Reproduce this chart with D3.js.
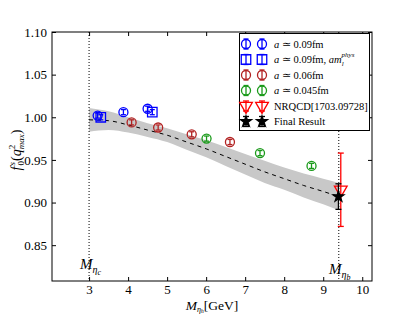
<!DOCTYPE html>
<html>
<head>
<meta charset="utf-8">
<script src="https://cdn.jsdelivr.net/npm/d3@7"></script>
<style>
body { margin: 0; background: #fff; }
text { font-family: "Liberation Serif", serif; }
</style>
</head>
<body>
<div id="chart"></div>
<script>
// data
var blueX = [3.22, 3.88, 4.50];
var blueY = [1.002, 1.006, 1.010];
var blueErr = [0.003, 0.003, 0.003];

var physX = [3.30, 4.62];
var physY = [1.000, 1.006];
var physErr = [0.003, 0.003];

var fineX = [4.09, 4.77, 5.63, 6.61];
var fineY = [0.994, 0.988, 0.980, 0.971];
var fineErr = [0.003, 0.003, 0.003, 0.003];

var finestX = [6.01, 7.38, 8.70];
var finestY = [0.975, 0.958, 0.943];
var finestErr = [0.003, 0.003, 0.003];

var nrqcdX = [9.45];
var nrqcdY = [0.915];
var nrqcdErr = [0.043];

var finalX = [9.39];
var finalY = [0.907];
var finalErr = [0.015];

var bandX = [3.0, 3.5, 4.0, 4.5, 5.0, 5.5, 6.0, 6.5, 7.0, 7.5, 8.0, 8.5, 9.0, 9.4];
var bandMid = [0.997, 0.996, 0.991, 0.985, 0.979, 0.971, 0.963, 0.954, 0.945, 0.936, 0.928, 0.920, 0.913, 0.907];
var bandHalf = [0.014, 0.011, 0.009, 0.008, 0.008, 0.009, 0.010, 0.011, 0.012, 0.013, 0.013, 0.014, 0.015, 0.016];

var xTicks = [3, 4, 5, 6, 7, 8, 9, 10];
var yTicks = [0.85, 0.90, 0.95, 1.00, 1.05, 1.10];
var massLines = [3.0, 9.399];

var svgWidth = 415;
var svgHeight = 316;
var margin = {top: 32, right: 43, bottom: 35, left: 52};
var width = svgWidth - margin.left - margin.right;
var height = svgHeight - margin.top - margin.bottom;

var svg = d3.select("#chart").append("svg")
    .attr("width", svgWidth)
    .attr("height", svgHeight);

var g = svg.append("g")
    .attr("transform", `translate(${margin.left},${margin.top})`);

var x = d3.scaleLinear().domain([2.05, 10.25]).range([0, width]);
var y = d3.scaleLinear().domain([0.808, 1.10]).range([height, 0]);

// band
var band = bandX.map((v, i) => ({x: v, m: bandMid[i], h: bandHalf[i]}));
g.append("path")
    .datum(band)
    .attr("fill", "#c8c8c8")
    .attr("d", d3.area().x(d => x(d.x)).y0(d => y(d.m - d.h)).y1(d => y(d.m + d.h)).curve(d3.curveMonotoneX));
g.append("path")
    .datum(band)
    .attr("fill", "none")
    .attr("stroke", "#000")
    .attr("stroke-width", 1)
    .attr("stroke-dasharray", "4,4")
    .attr("d", d3.line().x(d => x(d.x)).y(d => y(d.m)).curve(d3.curveMonotoneX));

// M_eta lines
g.selectAll(".mline").data(massLines).enter().append("line")
    .attr("x1", d => x(d)).attr("x2", d => x(d))
    .attr("y1", 0).attr("y2", height)
    .attr("stroke", "#000")
    .attr("stroke-width", 1)
    .attr("stroke-dasharray", "1,2");

// markers
function drawSeries(xs, ys, es, color, shape, size, rot) {
    var grp = g.append("g");
    xs.forEach(function(xv, i) {
        var cx = x(xv), cy = y(ys[i]);
        var y0 = y(ys[i] - es[i]), y1 = y(ys[i] + es[i]);
        drawMarker(grp, cx, cy, y0, y1, color, shape, size, rot);
    });
}

function drawMarker(grp, cx, cy, y0, y1, color, shape, size, rot) {
    var cap = shape === "circle" || shape === "square" ? 2.5 : 3;
    grp.append("line").attr("x1", cx).attr("x2", cx).attr("y1", y0).attr("y2", y1)
        .attr("stroke", color).attr("stroke-width", 1.3);
    [y0, y1].forEach(function(yy) {
        grp.append("line").attr("x1", cx - cap).attr("x2", cx + cap).attr("y1", yy).attr("y2", yy)
            .attr("stroke", color).attr("stroke-width", 1.3);
    });
    var sym = {circle: d3.symbolCircle, square: d3.symbolSquare, tri: d3.symbolTriangle, star: d3.symbolStar}[shape];
    grp.append("path")
        .attr("d", d3.symbol().type(sym).size(size)())
        .attr("transform", `translate(${cx},${cy}) rotate(${rot || 0})`)
        .attr("fill", shape === "star" ? "#000" : "none")
        .attr("stroke", color)
        .attr("stroke-width", 1.3);
}

drawSeries(blueX, blueY, blueErr, "#0000ff", "circle", 64);
drawSeries(physX, physY, physErr, "#0000ff", "square", 90);
drawSeries(fineX, fineY, fineErr, "#b22222", "circle", 64);
drawSeries(finestX, finestY, finestErr, "#1a9a1a", "circle", 64);
drawSeries(nrqcdX, nrqcdY, nrqcdErr, "#ff0000", "tri", 70, 180);
drawSeries(finalX, finalY, finalErr, "#000", "star", 36);

// axes with inward ticks on all sides
var xAxis = g.append("g").attr("transform", `translate(0,${height})`)
    .call(d3.axisBottom(x).tickValues(xTicks).tickSizeInner(-4).tickSizeOuter(0).tickPadding(4).tickFormat(d3.format("d")));
var xTop = g.append("g")
    .call(d3.axisTop(x).tickValues(xTicks).tickSizeInner(-4).tickSizeOuter(0).tickFormat(""));
var yAxis = g.append("g")
    .call(d3.axisLeft(y).tickValues(yTicks).tickSizeInner(-4).tickSizeOuter(0).tickPadding(5).tickFormat(d3.format(".2f")));
var yRight = g.append("g").attr("transform", `translate(${width},0)`)
    .call(d3.axisRight(y).tickValues(yTicks).tickSizeInner(-4).tickSizeOuter(0).tickFormat(""));
[xAxis, xTop, yAxis, yRight].forEach(function(a) {
    a.select(".domain").remove();
    a.selectAll("line").attr("stroke", "#000");
    a.selectAll("text").style("font-family", "Liberation Serif, serif").style("font-size", "13px").attr("fill", "#000");
});

g.append("rect").attr("width", width).attr("height", height)
    .attr("fill", "none").attr("stroke", "#000").attr("stroke-width", 1);

// axis labels
var yl = svg.append("text")
    .attr("transform", "translate(21,150) rotate(-90)")
    .attr("text-anchor", "middle")
    .style("font-size", "14px");
yl.append("tspan").style("font-style", "italic").text("f");
yl.append("tspan").attr("dx", 1).attr("dy", 3).style("font-size", "9px").text("0");
yl.append("tspan").attr("dx", -4.5).attr("dy", -9).style("font-size", "9px").style("font-style", "italic").text("s");
yl.append("tspan").attr("dx", 1).attr("dy", 6).text("(");
yl.append("tspan").style("font-style", "italic").text("q");
yl.append("tspan").attr("dy", -6).style("font-size", "9px").text("2");
yl.append("tspan").attr("dx", -4.5).attr("dy", 9).style("font-size", "9px").style("font-style", "italic").text("max");
yl.append("tspan").attr("dy", -3).text(")");

var xl = svg.append("text")
    .attr("x", 212).attr("y", 310)
    .attr("text-anchor", "middle")
    .style("font-size", "13.5px");
xl.append("tspan").style("font-style", "italic").text("M");
xl.append("tspan").attr("dy", 2).style("font-size", "8px").style("font-style", "italic").text("η");
xl.append("tspan").attr("dy", 1).style("font-size", "6px").style("font-style", "italic").text("h");
xl.append("tspan").attr("dy", -3).text("[GeV]");

function massLabel(px, py, sub) {
    var t = svg.append("text").attr("x", px).attr("y", py).style("font-size", "15px");
    t.append("tspan").style("font-style", "italic").text("M");
    t.append("tspan").attr("dy", 4).style("font-size", "10px").style("font-style", "italic").text("η");
    t.append("tspan").attr("dy", 2).style("font-size", "8px").style("font-style", "italic").text(sub);
}
massLabel(80, 269, "c");
massLabel(329, 274, "b");

// legend
var legend = svg.append("g");
legend.append("rect").attr("x", 239.5).attr("y", 33.5).attr("width", 130).attr("height", 97)
    .attr("fill", "#fff").attr("stroke", "#000").attr("stroke-width", 1);
var legItems = [
    {color: "#0000ff", shape: "circle", size: 64},
    {color: "#0000ff", shape: "square", size: 90},
    {color: "#b22222", shape: "circle", size: 64},
    {color: "#1a9a1a", shape: "circle", size: 64},
    {color: "#ff0000", shape: "tri", size: 70, rot: 180},
    {color: "#000", shape: "star", size: 36}
];
legItems.forEach(function(it, i) {
    var ly = 44 + i * 15.5;
    [246, 262].forEach(function(lx) {
        drawMarker(legend, lx, ly, ly - 5, ly + 5, it.color, it.shape, it.size, it.rot);
    });
    var t = legend.append("text").attr("x", 274).attr("y", ly + 3.5).style("font-size", "10.5px");
    if (i < 4) {
        t.append("tspan").style("font-style", "italic").text("a");
        t.append("tspan").text(" ≃ " + ["0.09fm", "0.09fm, ", "0.06fm", "0.045fm"][i]);
        if (i === 1) {
            t.append("tspan").style("font-style", "italic").text("am");
            t.append("tspan").attr("dy", 3).style("font-size", "7px").style("font-style", "italic").text("l");
            t.append("tspan").attr("dx", -2).attr("dy", -9).style("font-size", "7px").style("font-style", "italic").text("phys");
        }
    } else {
        t.text(i === 4 ? "NRQCD[1703.09728]" : "Final Result");
    }
});
</script>
</body>
</html>
